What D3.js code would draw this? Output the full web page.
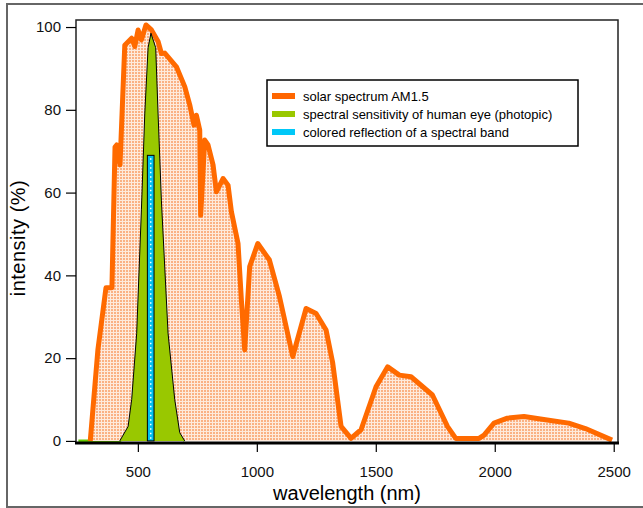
<!DOCTYPE html>
<html>
<head>
<meta charset="utf-8">
<script src="https://cdn.jsdelivr.net/npm/d3@7"></script>
<style>
  body { margin: 0; background: #fff; }
  svg { display: block; font-family: "Liberation Sans", Arial, sans-serif; }
</style>
</head>
<body>
<div id="chart"></div>
<script>
// solar spectrum AM1.5 (wavelength nm, intensity %)
const solarWl = [300, 332, 366, 391, 404, 411, 425, 445, 474, 487, 501, 515, 534, 557, 585, 599, 613,
  662, 697, 718, 736, 746, 760, 764, 781, 795, 816, 830, 858, 879, 893, 921, 935, 949, 970, 1004,
  1053, 1095, 1151, 1207, 1249, 1291, 1319, 1354, 1396, 1438, 1501, 1550, 1599, 1648, 1738, 1801,
  1836, 1934, 1955, 1997, 2053, 2123, 2213, 2311, 2381, 2493];
const solarVal = [0, 22, 37, 37, 71, 71.5, 66.7, 95.6, 97.3, 95.3, 99.3, 96.9, 100.5, 99.3, 96.5, 93.6, 93.7,
  90.4, 85.6, 81.2, 76.3, 78.7, 75.1, 54.5, 72.7, 71.5, 66.7, 60.2, 63.4, 61.8, 55.4, 47.7, 34.1, 22, 42.1, 47.7,
  43.7, 34.9, 20.4, 32, 30.8, 26.8, 18.8, 3.5, 0.6, 2.7, 13.1, 17.9, 15.9, 15.5, 11.1, 3.5,
  0.6, 0.6, 1.4, 4.3, 5.5, 5.9, 5.1, 4.3, 3.0, 0.2];

// photopic eye sensitivity
const eyeWl = [250, 300, 424, 459, 474, 495, 515, 529, 543, 555, 575, 585, 599, 627, 655, 676, 697];
const eyeVal = [0, 0, 0, 3.5, 10, 26, 56, 79, 95, 98.5, 95, 79, 58, 26, 10, 2, 0];

// reflected spectral band
const bandFrom = 540;
const bandTo = 568;
const bandVal = 69;

const xTicks = [500, 1000, 1500, 2000, 2500];
const yTicks = [0, 20, 40, 60, 80, 100];

const legendLabels = [
  'solar spectrum AM1.5',
  'spectral sensitivity of human eye (photopic)',
  'colored reflection of a spectral band'
];
const legendColors = ['#ff6600', '#99c800', '#00c8f8'];

const width = 643, height = 508;
const margin = { top: 20, right: 25, bottom: 65, left: 76 };

const svg = d3.select('#chart').append('svg')
  .attr('width', width)
  .attr('height', height);

// figure frame
svg.append('rect')
  .attr('x', 7).attr('y', 4)
  .attr('width', 700).attr('height', 503)
  .attr('fill', 'none')
  .attr('stroke', '#666')
  .attr('stroke-width', 2);

const x = d3.scaleLinear()
  .domain([240, 2518])
  .range([margin.left, width - margin.right]);

const y = d3.scaleLinear()
  .domain([-0.5, 101.7])
  .range([height - margin.bottom, margin.top]);

const solar = solarWl.map((w, i) => [w, solarVal[i]]);
const eye = eyeWl.map((w, i) => [w, eyeVal[i]]);

// dotted fill pattern
const defs = svg.append('defs');
const pat = defs.append('pattern')
  .attr('id', 'dots')
  .attr('patternUnits', 'userSpaceOnUse')
  .attr('width', 3).attr('height', 3);
pat.append('rect').attr('width', 3).attr('height', 3).attr('fill', '#feeadc');
pat.append('rect').attr('width', 2).attr('height', 2).attr('fill', '#fab184');

const line = d3.line().x(d => x(d[0])).y(d => y(d[1]));
const area = d3.area().x(d => x(d[0])).y0(y(0)).y1(d => y(d[1]));

// green baseline trace (only visible left of the solar curve)
svg.append('path')
  .datum(eye)
  .attr('fill', 'none')
  .attr('stroke', '#66cc00')
  .attr('stroke-width', 3)
  .attr('d', line);

// solar area
svg.append('path')
  .datum(solar)
  .attr('fill', 'url(#dots)')
  .attr('d', area);

// solar line
svg.append('path')
  .datum(solar)
  .attr('fill', 'none')
  .attr('stroke', '#ff6a00')
  .attr('stroke-width', 5)
  .attr('stroke-linejoin', 'round')
  .attr('d', line);

// eye sensitivity
const eyeShape = eye.filter(d => d[0] >= 424);
svg.append('path')
  .datum(eyeShape)
  .attr('fill', '#99c800')
  .attr('d', area);
svg.append('path')
  .datum(eyeShape)
  .attr('fill', 'none')
  .attr('stroke', '#000')
  .attr('stroke-width', 1)
  .attr('d', line);

// spectral band
svg.append('rect')
  .attr('x', x(bandFrom))
  .attr('y', y(bandVal))
  .attr('width', x(bandTo) - x(bandFrom))
  .attr('height', y(0) - y(bandVal))
  .attr('fill', '#00c0f0')
  .attr('stroke', '#000')
  .attr('stroke-width', 1);
svg.append('line')
  .attr('x1', x((bandFrom + bandTo) / 2)).attr('x2', x((bandFrom + bandTo) / 2))
  .attr('y1', y(bandVal) + 3).attr('y2', y(0))
  .attr('stroke', '#fff')
  .attr('stroke-width', 1.5)
  .attr('stroke-dasharray', '1.5,3');

// plot frame
const x0 = margin.left, x1 = width - margin.right;
const y0 = margin.top, y1 = height - margin.bottom;
svg.append('path')
  .attr('d', `M${x0},${y1}V${y0}H${x1}V${y1}`)
  .attr('fill', 'none')
  .attr('stroke', '#222')
  .attr('stroke-width', 1.5);
svg.append('line')
  .attr('x1', x0 - 1).attr('x2', x1 + 1)
  .attr('y1', y1).attr('y2', y1)
  .attr('stroke', '#000')
  .attr('stroke-width', 3);

// axes
const xAxis = svg.append('g')
  .attr('transform', `translate(0,${y1})`)
  .call(d3.axisBottom(x).tickValues(xTicks).tickFormat(d3.format('d')).tickSize(9).tickPadding(14));
const yAxis = svg.append('g')
  .attr('transform', `translate(${x0},0)`)
  .call(d3.axisLeft(y).tickValues(yTicks).tickFormat(d3.format('d')).tickSize(10).tickPadding(5));
[xAxis, yAxis].forEach(g => {
  g.select('.domain').remove();
  g.selectAll('.tick line').attr('stroke', '#000').attr('stroke-width', 1.2);
  g.selectAll('.tick text')
    .attr('fill', '#111')
    .style('font-size', '15px')
    .style('font-family', '"Liberation Sans", Arial, sans-serif');
});

// axis titles
svg.append('text')
  .attr('x', 347).attr('y', 500)
  .attr('text-anchor', 'middle')
  .style('font-size', '20px')
  .text('wavelength (nm)');
svg.append('text')
  .attr('transform', 'translate(25,238) rotate(-90)')
  .attr('text-anchor', 'middle')
  .style('font-size', '20px')
  .style('letter-spacing', '0.5px')
  .text('intensity (%)');

// legend
const legend = svg.append('g').attr('transform', 'translate(267,80)');
legend.append('rect')
  .attr('width', 311).attr('height', 66)
  .attr('fill', '#fff')
  .attr('stroke', '#000')
  .attr('stroke-width', 1.5);
legendLabels.forEach((label, i) => {
  const row = legend.append('g').attr('transform', `translate(0,${16 + i * 18})`);
  row.append('line')
    .attr('x1', 5).attr('x2', 28)
    .attr('stroke', legendColors[i])
    .attr('stroke-width', 6);
  row.append('text')
    .attr('x', 36).attr('y', 4.5)
    .style('font-size', '13px')
    .text(label);
});
</script>
</body>
</html>
